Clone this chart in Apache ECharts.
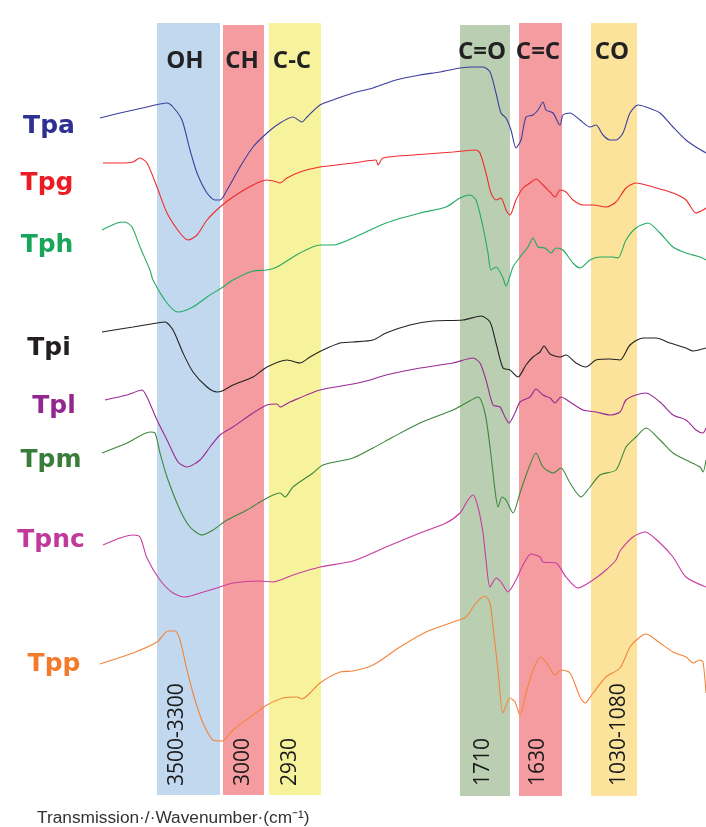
<!DOCTYPE html>
<html><head><meta charset="utf-8">
<script src="https://cdn.jsdelivr.net/npm/echarts@6/dist/echarts.min.js"></script>
<style>html,body{margin:0;padding:0;background:#fff}#c{width:706px;height:827px}</style>
</head><body><div id="c"></div>
<script>
// Band definitions (position units along the spectrum axis)
const bandNames  = ['OH','CH','C-C','C=O','C=C','CO'];
const bandRanges = ['3500-3300','3000','2930','1710','1630','1030-1080'];
const bandStart  = [157,223,269,460,519,591];
const bandEnd    = [220,264,321,510,562,637];
const bandTop    = [23,25,23,25,23,23];
const bandBottom = [795,795,795,796,796,796];
const bandColors = ['#c2d8ee','#f59ca0','#f7f29c','#bacfb1','#f59ca0','#fbe39b'];

const seriesNames = ['Tpa','Tpg','Tph','Tpi','Tpl','Tpm','Tpnc','Tpp'];
const lineColors  = ['#3b3f9f','#ee2b2e','#22ab62','#222222','#9a2a94','#3d873d','#c93ba1','#f2853c'];
const labelColors = ['#2e3192','#ed1c24','#19a55a','#231f20','#92278f','#3a7d3a','#c0399b','#f37b2a'];

// Spectra: [position, offset-transmission]
const tpa = [[100,118],[120,113],[147,107],[167,103],[173,107],[182,120],[190,150],[197,173],[207,193],[215,200],[220,200],[227,190],[240,167],[253,147],[267,133],[280,123],[293,117],[302,122],[307,117],[320,105],[333,100],[353,93],[373,88],[396,80],[420,75],[440,72],[460,68],[473,67],[483,67],[490,72],[496,93],[501,113],[506,118],[511,130],[516,148],[521,140],[526,117],[533,115],[538,110],[543,102],[546,110],[553,113],[560,125],[563,115],[570,113],[580,120],[590,127],[596,125],[603,135],[610,140],[616,140],[623,133],[630,113],[638,105],[646,107],[660,113],[673,127],[686,140],[696,147],[706,153]];
const tpg = [[103,163],[120,163],[133,162],[140,158],[147,163],[157,187],[167,213],[180,233],[188,240],[197,235],[207,220],[220,207],[233,197],[253,185],[267,180],[277,182],[280,183],[287,178],[300,172],[320,167],[353,163],[376,160],[378,165],[383,158],[413,155],[453,152],[476,150],[480,153],[486,173],[491,193],[496,200],[501,198],[506,210],[510,215],[516,200],[523,188],[530,183],[536,179],[543,185],[550,192],[555,197],[560,190],[566,192],[573,200],[583,205],[593,205],[606,207],[616,202],[626,188],[636,183],[653,187],[673,193],[686,200],[696,213],[703,210],[706,208]];
const tph = [[102,230],[117,223],[125,222],[132,227],[140,247],[150,270],[153,280],[167,303],[178,312],[193,307],[207,297],[223,287],[233,280],[253,271],[267,270],[277,267],[300,253],[320,245],[333,245],[353,238],[386,223],[420,213],[446,207],[460,198],[470,195],[476,200],[483,227],[488,253],[491,270],[496,267],[503,278],[506,286],[513,267],[520,257],[528,247],[533,238],[538,247],[545,248],[551,253],[556,248],[563,250],[573,263],[580,268],[590,260],[600,257],[613,257],[618,258],[626,240],[636,228],[648,223],[660,233],[673,247],[686,253],[700,257],[706,260]];
const tpi = [[102,332],[133,327],[157,323],[165,322],[173,330],[183,353],[193,372],[207,387],[217,392],[222,391],[233,385],[253,377],[267,367],[287,360],[300,363],[310,357],[323,350],[340,343],[353,342],[373,340],[386,333],[410,325],[433,321],[463,320],[481,316],[490,322],[496,343],[503,368],[510,370],[518,377],[526,365],[533,357],[540,352],[544,346],[550,354],[560,357],[566,355],[576,363],[586,367],[596,360],[610,359],[620,360],[630,345],[643,338],[656,338],[670,343],[686,348],[693,351],[706,348]];
const tpl = [[105,400],[127,395],[142,390],[147,397],[157,420],[167,440],[178,462],[187,467],[200,460],[210,447],[220,435],[233,427],[253,413],[267,405],[277,404],[280,407],[290,402],[320,390],[353,384],[370,380],[386,375],[420,368],[453,363],[473,358],[480,363],[486,380],[493,405],[500,407],[505,417],[509,423],[515,413],[520,402],[530,397],[536,389],[543,395],[550,398],[555,403],[561,397],[570,402],[583,410],[596,412],[610,415],[620,412],[626,400],[636,395],[646,393],[660,402],[673,415],[686,420],[696,430],[703,433],[706,428]];
const tpm = [[102,453],[127,443],[150,432],[155,433],[160,453],[167,477],[180,510],[190,527],[202,535],[213,530],[227,520],[247,510],[267,498],[280,493],[285,497],[293,487],[313,473],[323,465],[353,458],[373,448],[393,437],[420,423],[453,410],[466,403],[478,397],[485,413],[490,447],[495,490],[498,507],[502,497],[506,500],[513,513],[520,493],[528,470],[536,453],[543,467],[553,473],[561,468],[570,483],[581,497],[590,487],[600,475],[616,470],[626,447],[636,437],[646,428],[660,440],[673,453],[686,460],[700,467],[703,472],[706,460]];
const tpnc = [[103,545],[120,538],[133,535],[140,537],[147,558],[160,580],[173,593],[185,597],[200,593],[217,588],[233,583],[260,581],[273,582],[293,575],[320,567],[353,561],[386,547],[420,533],[446,523],[460,513],[468,500],[473,495],[478,507],[483,533],[486,560],[490,587],[496,578],[501,582],[508,592],[516,580],[523,565],[531,554],[540,557],[543,562],[556,563],[566,577],[578,588],[593,580],[606,570],[616,560],[620,551],[633,537],[645,532],[660,543],[673,557],[686,577],[706,587]];
const tpp = [[100,664],[133,653],[157,642],[168,631],[175,631],[180,640],[187,670],[195,700],[203,723],[213,740],[222,741],[233,730],[253,715],[267,705],[283,698],[297,697],[302,699],[310,693],[320,683],[340,672],[353,671],[373,665],[400,647],[426,632],[453,622],[466,617],[476,603],[485,596],[490,603],[493,627],[498,670],[503,713],[510,698],[515,702],[520,715],[526,693],[533,670],[541,657],[548,665],[555,675],[561,670],[570,673],[580,697],[585,703],[593,693],[606,677],[620,668],[630,647],[640,637],[646,634],[660,643],[673,652],[686,657],[693,663],[700,660],[703,662],[706,693]];
const spectra = [tpa,tpg,tph,tpi,tpl,tpm,tpnc,tpp];

// label layout (pixels)
const labelX = [49,47,47,49,54,51,51,54];
const labelBase = [139,196,258,361,419,473,553,677];
const topLabelX = [185,242,292,482,538,612];
const topLabelBase = [68,68,68,59,59,59];
const rangeLabelX = [177,243,290,483,538,619];

const chart = echarts.init(document.getElementById('c'), null, {renderer:'canvas'});

const bandArea = bandNames.map((n,i)=>[
  {xAxis:bandStart[i], yAxis:bandTop[i], itemStyle:{color:bandColors[i], opacity:1}},
  {xAxis:bandEnd[i], yAxis:bandBottom[i]}
]);

const series = [{
  type:'line', data:[], silent:true, z:1,
  markArea:{silent:true, data:bandArea, label:{show:false}}
}];
spectra.forEach((d,i)=>{
  series.push({
    name:seriesNames[i], type:'line', data:d, showSymbol:false, smooth:0.25,
    lineStyle:{color:lineColors[i], width:1.1}, z:3, animation:false
  });
});

const graphic = [];
seriesNames.forEach((n,i)=>{
  graphic.push({type:'text', x:labelX[i], y:labelBase[i], style:{
    text:n, fill:labelColors[i], font:'bold 25px "DejaVu Sans"', textAlign:'center', textVerticalAlign:'bottom'
  }, z:10});
});
bandNames.forEach((n,i)=>{
  graphic.push({type:'text', x:topLabelX[i], y:topLabelBase[i]+5, style:{
    text:n, fill:'#222', font:'bold 24px "Open Sans"', textAlign:'center', textVerticalAlign:'bottom'
  }, z:10});
  graphic.push({type:'text', x:rangeLabelX[i], y:786, rotation:Math.PI/2, style:{
    text:bandRanges[i], fill:'#1a1a1a', font:'21px "Open Sans"', textAlign:'left', textVerticalAlign:'middle'
  }, z:10});
});
graphic.push({type:'text', x:37, y:827, style:{
  text:'Transmission·/·Wavenumber·(cm⁻¹)', fill:'#333', font:'17.3px "Liberation Sans"', textAlign:'left', textVerticalAlign:'bottom'
}, z:10});

chart.setOption({
  animation:false,
  backgroundColor:'#ffffff',
  grid:{left:0,right:0,top:0,bottom:0},
  xAxis:{type:'value', min:0, max:706, show:false},
  yAxis:{type:'value', min:0, max:827, inverse:true, show:false},
  series:series,
  graphic:graphic
});
</script></body></html>
